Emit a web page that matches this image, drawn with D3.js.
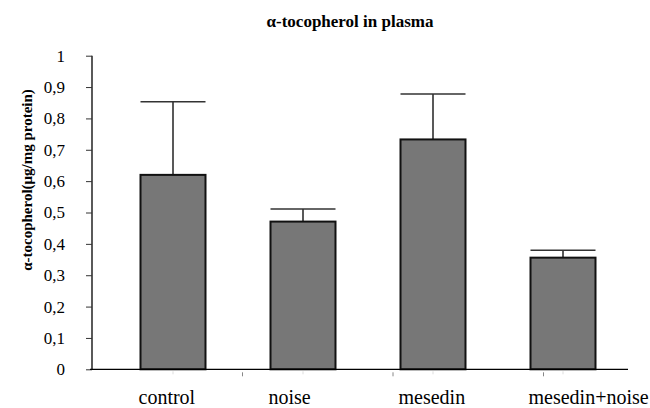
<!DOCTYPE html>
<html>
<head>
<meta charset="utf-8">
<script src="https://cdn.jsdelivr.net/npm/d3@7"></script>
<style>
  body { margin: 0; background: #fff; }
  svg { display: block; }
</style>
</head>
<body>
<div id="chart"></div>
<script>
// data
var categories = ["control", "noise", "mesedin", "mesedin+noise"];
var means = [0.62, 0.471, 0.733, 0.356];
var errors = [0.233, 0.04, 0.145, 0.024];
var yTicks = [0, 0.1, 0.2, 0.3, 0.4, 0.5, 0.6, 0.7, 0.8, 0.9, 1];

var fontFam = "'Liberation Serif'";
var width = 650,
    height = 408;

var svg = d3.select("#chart").append("svg")
    .attr("width", width)
    .attr("height", height)
    .style("font-family", fontFam);

var y = d3.scaleLinear().domain([0, 1]).range([369.3, 55.7]);
var x = d3.scalePoint().domain(categories).range([108, 628]).padding(0.5);
var barW = x.step() * 0.5;
// category separators (the reference tick marks sit on a wider grid)
var sep = d3.scaleLinear().domain([0, 4]).range([92, 694]);

svg.append("text")
    .attr("x", 350)
    .attr("y", 27)
    .attr("text-anchor", "middle")
    .style("font-family", fontFam)
    .style("font-weight", "bold")
    .style("font-size", "17px")
    .text("α-tocopherol in plasma");

svg.append("text")
    .attr("transform", "translate(32,180) rotate(-90)")
    .attr("text-anchor", "middle")
    .style("font-family", fontFam)
    .style("font-weight", "bold")
    .style("font-size", "15px")
    .text("α-tocopherol(μg/mg  protein)");

// y axis
var yAxis = svg.append("g")
    .attr("transform", "translate(92,0)")
    .call(d3.axisLeft(y)
        .tickValues(yTicks)
        .tickSize(6)
        .tickPadding(21)
        .tickFormat(function(d) { return String(d).replace(".", ","); }));
yAxis.attr("font-family", "Liberation Serif").attr("font-size", 17);
yAxis.select(".domain").attr("d", "M0," + y(1) + "V" + y(0)).attr("stroke", "#000").attr("stroke-width", 1.3);
yAxis.selectAll(".tick line").attr("stroke", "#333");
yAxis.selectAll(".tick text")
    .style("font-family", fontFam)
    .style("font-size", "17px")
    .attr("fill", "#000");

// error bars (behind bars)
var err = svg.append("g").selectAll("g")
    .data(categories)
    .enter().append("g");
err.append("line")
    .attr("x1", function(d) { return x(d); })
    .attr("x2", function(d) { return x(d); })
    .attr("y1", function(d, i) { return y(means[i]); })
    .attr("y2", function(d, i) { return y(means[i] + errors[i]); })
    .attr("stroke", "#222")
    .attr("stroke-width", 1.5);
err.append("line")
    .attr("x1", function(d) { return x(d) - barW / 2; })
    .attr("x2", function(d) { return x(d) + barW / 2; })
    .attr("y1", function(d, i) { return y(means[i] + errors[i]); })
    .attr("y2", function(d, i) { return y(means[i] + errors[i]); })
    .attr("stroke", "#333")
    .attr("stroke-width", 1.5);

// bars
svg.append("g").selectAll("rect")
    .data(categories)
    .enter().append("rect")
    .attr("x", function(d) { return x(d) - barW / 2; })
    .attr("y", function(d, i) { return y(means[i]); })
    .attr("width", barW)
    .attr("height", function(d, i) { return y(0) - y(means[i]); })
    .attr("fill", "#777")
    .attr("stroke", "#111")
    .attr("stroke-width", 2);

// x axis line + ticks
svg.append("line")
    .attr("x1", 90).attr("x2", 628)
    .attr("y1", y(0)).attr("y2", y(0))
    .attr("stroke", "#000")
    .attr("stroke-width", 1.3);
svg.append("g").selectAll("line.sep")
    .data([1, 2, 3])
    .enter().append("line")
    .attr("x1", function(d) { return sep(d); })
    .attr("x2", function(d) { return sep(d); })
    .attr("y1", y(0) + 3).attr("y2", y(0) + 7)
    .attr("stroke", "#888");
svg.append("g").selectAll("line.c")
    .data(categories)
    .enter().append("line")
    .attr("x1", function(d) { return x(d); })
    .attr("x2", function(d) { return x(d); })
    .attr("y1", y(0) + 2).attr("y2", y(0) + 5)
    .attr("stroke", "#ddd");

// category labels start near the left edge of each bar, as in the reference
svg.append("g").selectAll("text")
    .data(categories)
    .enter().append("text")
    .attr("x", function(d) { return x(d) - barW / 2 - 2; })
    .attr("y", 404)
    .attr("text-anchor", "start")
    .style("font-family", fontFam)
    .style("font-size", "20px")
    .text(function(d) { return d; });
</script>
</body>
</html>
